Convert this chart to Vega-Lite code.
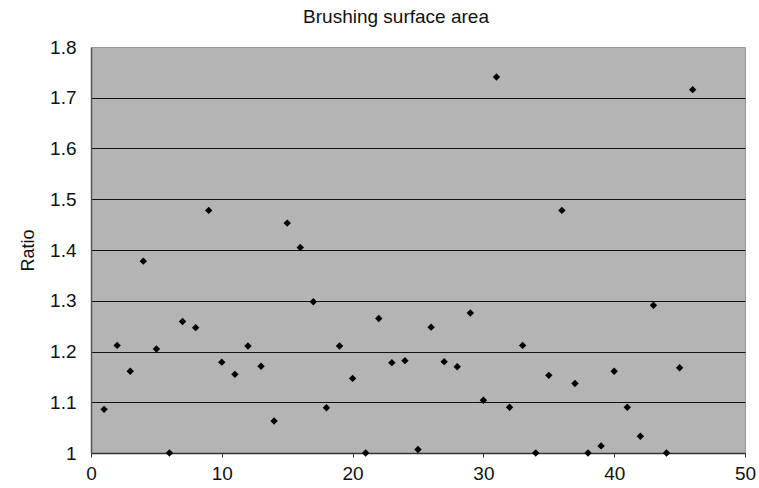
{
  "$schema": "https://vega.github.io/schema/vega-lite/v6.json",
  "autosize": "none",
  "width": 654,
  "height": 406,
  "padding": {"left": 91, "top": 47, "right": 14, "bottom": 35},
  "background": "white",
  "config": {
    "font": "Liberation Sans",
    "view": {"fill": "#b4b4b4", "stroke": "#9a9a9a", "strokeWidth": 1}
  },
  "title": {
    "text": "Brushing surface area",
    "fontSize": 19,
    "fontWeight": "normal",
    "color": "#111111",
    "anchor": "middle",
    "dx": -22,
    "offset": 11
  },
  "data": {
    "values": [
      {"n": 1, "ratio": 1.086}, {"n": 2, "ratio": 1.212}, {"n": 3, "ratio": 1.161},
      {"n": 4, "ratio": 1.378}, {"n": 5, "ratio": 1.205}, {"n": 6, "ratio": 1.0},
      {"n": 7, "ratio": 1.259}, {"n": 8, "ratio": 1.247}, {"n": 9, "ratio": 1.478},
      {"n": 10, "ratio": 1.179}, {"n": 11, "ratio": 1.155}, {"n": 12, "ratio": 1.211},
      {"n": 13, "ratio": 1.171}, {"n": 14, "ratio": 1.063}, {"n": 15, "ratio": 1.453},
      {"n": 16, "ratio": 1.405}, {"n": 17, "ratio": 1.298}, {"n": 18, "ratio": 1.089},
      {"n": 19, "ratio": 1.211}, {"n": 20, "ratio": 1.147}, {"n": 21, "ratio": 1.0},
      {"n": 22, "ratio": 1.265}, {"n": 23, "ratio": 1.178}, {"n": 24, "ratio": 1.182},
      {"n": 25, "ratio": 1.007}, {"n": 26, "ratio": 1.248}, {"n": 27, "ratio": 1.18},
      {"n": 28, "ratio": 1.17}, {"n": 29, "ratio": 1.276}, {"n": 30, "ratio": 1.104},
      {"n": 31, "ratio": 1.741}, {"n": 32, "ratio": 1.09}, {"n": 33, "ratio": 1.212},
      {"n": 34, "ratio": 1.0}, {"n": 35, "ratio": 1.153}, {"n": 36, "ratio": 1.478},
      {"n": 37, "ratio": 1.137}, {"n": 38, "ratio": 1.0}, {"n": 39, "ratio": 1.014},
      {"n": 40, "ratio": 1.161}, {"n": 41, "ratio": 1.09}, {"n": 42, "ratio": 1.033},
      {"n": 43, "ratio": 1.291}, {"n": 44, "ratio": 1.0}, {"n": 45, "ratio": 1.168},
      {"n": 46, "ratio": 1.716}
    ]
  },
  "mark": {"type": "point", "shape": "diamond", "filled": true, "color": "#000000", "size": 55, "opacity": 1, "clip": false},
  "encoding": {
    "x": {
      "field": "n",
      "type": "quantitative",
      "scale": {"domain": [0, 50], "nice": false, "zero": false},
      "axis": {
        "title": null,
        "values": [0, 10, 20, 30, 40, 50],
        "grid": false,
        "domainColor": "#333333",
        "domainWidth": 1.5,
        "tickColor": "#333333",
        "tickSize": 4,
        "labelFontSize": 19,
        "labelColor": "#111111",
        "labelPadding": 7,
        "labelFlush": false
      }
    },
    "y": {
      "field": "ratio",
      "type": "quantitative",
      "scale": {"domain": [1, 1.8], "nice": false, "zero": false},
      "axis": {
        "title": "Ratio",
        "titleFontSize": 18,
        "titleFontWeight": "normal",
        "titleColor": "#111111",
        "titlePadding": 12,
        "values": [1, 1.1, 1.2, 1.3, 1.4, 1.5, 1.6, 1.7, 1.8],
        "format": "~g",
        "grid": true,
        "gridColor": {"condition": {"test": "datum.value > 1.75 || datum.value < 1.05", "value": "transparent"}, "value": "#111111"},
        "gridWidth": 1.2,
        "gridOpacity": 1,
        "domainColor": "#555555",
        "domainWidth": 1.5,
        "ticks": false,
        "labelFontSize": 19,
        "labelColor": "#111111",
        "labelPadding": 15
      }
    }
  }
}
